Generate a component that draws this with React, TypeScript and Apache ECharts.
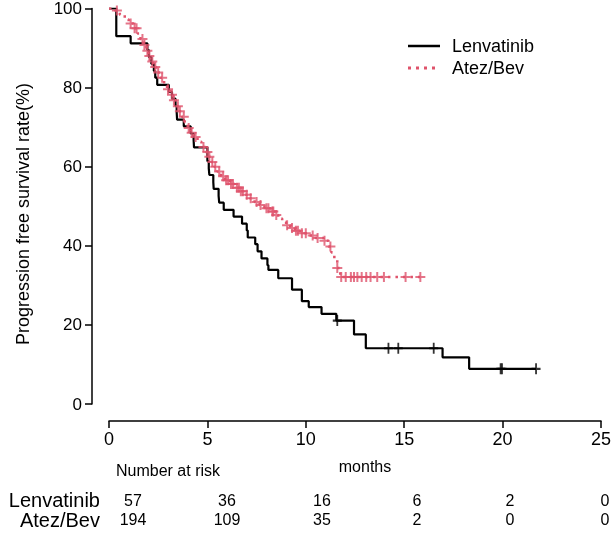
import React, { useEffect, useRef } from "react";
import * as echarts from "echarts";

// Lenvatinib KM steps: [month, survival %]
const lenSteps: [number, number][] = [
  [0, 100], [0.37, 93.0], [1.1, 91.2], [1.95, 89.5], [2.03, 87.7], [2.15, 86.0],
  [2.28, 84.2], [2.35, 82.5], [2.45, 80.7], [3.04, 78.9], [3.2, 77.2], [3.38, 75.4],
  [3.44, 73.7], [3.46, 71.9], [3.8, 70.2], [4.15, 68.4], [4.3, 66.7], [4.32, 64.9],
  [5.0, 61.4], [5.07, 59.6], [5.1, 57.9], [5.3, 56.1], [5.32, 54.4], [5.57, 52.6],
  [5.6, 50.9], [5.83, 49.1], [6.33, 47.4], [6.76, 45.6], [7.0, 43.9], [7.05, 42.1],
  [7.43, 40.4], [7.55, 38.6], [7.75, 36.8], [8.05, 35.1], [8.1, 33.9], [8.6, 31.8],
  [9.3, 28.9], [9.8, 26.0], [10.15, 24.5], [10.8, 22.8], [11.55, 21.1], [12.45, 17.6],
  [13.05, 14.1], [16.95, 11.8], [18.3, 8.9], [21.7, 8.9],
];
const lenCensor: [number, number][] = [
  [11.6, 21.1], [14.2, 14.1], [14.7, 14.1], [16.5, 14.1], [19.9, 8.9], [19.97, 8.9], [21.7, 8.9],
];

// Atez/Bev KM steps
const atezSteps: [number, number][] = [
  [0, 100], [0.3, 99.5], [0.55, 98.4], [0.8, 97.3], [1.0, 96.2], [1.25, 95.0], [1.45, 93.7],
  [1.6, 92.3], [1.75, 90.8], [1.9, 89.3], [2.0, 88.0], [2.1, 86.6], [2.25, 85.2], [2.4, 83.8],
  [2.6, 82.5], [2.8, 81.0], [2.95, 79.6], [3.1, 78.2], [3.25, 76.8], [3.4, 75.3], [3.55, 74.0],
  [3.7, 72.6], [3.85, 71.2], [4.0, 69.8], [4.15, 68.6], [4.3, 67.5], [4.5, 66.3], [4.7, 65.0],
  [4.9, 63.7], [5.05, 62.5], [5.2, 61.2], [5.35, 60.0], [5.5, 58.8], [5.7, 57.6], [5.9, 56.6],
  [6.15, 55.6], [6.4, 54.7], [6.65, 53.8], [6.9, 52.9], [7.15, 52.0], [7.4, 51.1], [7.65, 50.3],
  [7.9, 49.5], [8.2, 48.7], [8.45, 47.8], [8.6, 46.9], [8.8, 46.0], [9.0, 45.2], [9.2, 44.5],
  [9.45, 43.8], [9.7, 43.2], [10.1, 42.6], [10.5, 42.0], [10.9, 41.3], [11.15, 39.8], [11.3, 38.3],
  [11.45, 36.6], [11.6, 34.4], [11.75, 32.1], [15.82, 32.1],
];
const atezCensor: [number, number][] = [
  [0.4, 99.5], [1.1, 96.2], [1.3, 95.0], [1.4, 95.0], [1.7, 92.3], [1.8, 90.8], [1.95, 89.3],
  [2.05, 88.0], [2.2, 86.6], [2.35, 85.2], [2.5, 83.8], [2.7, 82.5], [3.0, 79.6], [3.2, 78.2],
  [3.3, 76.8], [3.5, 75.3], [3.6, 74.0], [3.8, 72.6], [4.05, 69.8], [4.2, 68.6], [4.4, 67.5],
  [4.8, 65.0], [5.0, 63.7], [5.1, 62.5], [5.25, 61.2], [5.4, 60.0], [5.6, 58.8], [5.8, 57.6],
  [5.95, 56.6], [6.05, 56.6], [6.2, 55.6], [6.3, 55.6], [6.5, 54.7], [6.6, 54.7], [6.7, 53.8],
  [6.8, 53.8], [7.0, 52.9], [7.2, 52.0], [7.5, 51.1], [7.7, 50.3], [8.0, 49.5], [8.1, 49.5],
  [8.3, 48.7], [8.35, 48.7], [8.5, 47.8], [9.05, 45.2], [9.3, 44.5], [9.5, 43.8], [9.6, 43.8],
  [9.8, 43.2], [10.0, 43.2], [10.35, 42.6], [10.6, 42.0], [10.95, 41.3], [11.25, 39.8], [11.6, 34.4],
  [11.8, 32.1], [12.03, 32.1], [12.29, 32.1], [12.45, 32.1], [12.62, 32.1], [12.84, 32.1],
  [13.07, 32.1], [13.29, 32.1], [13.63, 32.1], [13.97, 32.1], [15.07, 32.1], [15.82, 32.1],
];

const groups = ["Lenvatinib", "Atez/Bev"];
const lenRisk = [57, 36, 16, 6, 2, 0];
const atezRisk = [194, 109, 35, 2, 0, 0];
const yTitle = "Progression free survival rate(%)";
const xTitle = "months";
const riskTitle = "Number at risk";

const FONT = '"Liberation Sans", Arial, Helvetica, sans-serif';
const PINK = "#DF536B";
const PLUS = "path://M4,0H6V10H4ZM0,4H10V6H0Z";
const riskCols = [133, 227, 322, 417, 510, 605];

export default function App() {
  const ref = useRef<HTMLDivElement>(null);
  useEffect(() => {
    if (!ref.current) return;
    const chart = echarts.init(ref.current, null, { renderer: "svg" });
    const txt = (text: string, x: number, y: number, size: number, align = "center") => ({
      type: "text",
      x,
      y,
      style: { text, font: `${size}px ${FONT}`, fill: "#000", align, verticalAlign: "middle" },
    });
    const graphic: any[] = [
      {
        type: "text",
        x: 23,
        y: 214,
        rotation: Math.PI / 2,
        style: { text: yTitle, font: `18px ${FONT}`, fill: "#000", align: "center", verticalAlign: "middle" },
      },
      { type: "line", shape: { x1: 408, y1: 46, x2: 440, y2: 46 }, style: { stroke: "#000", lineWidth: 2.5 } },
      { type: "line", shape: { x1: 408, y1: 68, x2: 440, y2: 68 }, style: { stroke: PINK, lineWidth: 3, lineDash: [3, 5] } },
      txt(groups[0], 452, 46, 18, "left"),
      txt(groups[1], 452, 68, 18, "left"),
      txt(xTitle, 365, 466, 16),
      txt(riskTitle, 116, 470, 16, "left"),
      txt(groups[0], 100, 500, 20, "right"),
      txt(groups[1], 100, 520, 20, "right"),
    ];
    lenRisk.forEach((v, i) => graphic.push(txt(String(v), riskCols[i], 500, 16)));
    atezRisk.forEach((v, i) => graphic.push(txt(String(v), riskCols[i], 519, 16)));

    chart.setOption({
      animation: false,
      grid: { left: 109, right: 11, top: 8, bottom: 132 },
      xAxis: {
        type: "value",
        min: 0,
        max: 25,
        interval: 5,
        offset: 17,
        splitLine: { show: false },
        axisLine: { show: true, onZero: false, lineStyle: { color: "#000", width: 1.5 } },
        axisTick: { show: true, length: 7, lineStyle: { color: "#000", width: 1.5 } },
        axisLabel: { color: "#000", fontSize: 18, fontFamily: FONT, margin: 9 },
      },
      yAxis: {
        type: "value",
        min: 0,
        max: 100,
        interval: 20,
        offset: 17,
        splitLine: { show: false },
        axisLine: { show: true, onZero: false, lineStyle: { color: "#000", width: 1.5 } },
        axisTick: { show: true, length: 7, lineStyle: { color: "#000", width: 1.5 } },
        axisLabel: { color: "#000", fontSize: 17, fontFamily: FONT, margin: 10 },
      },
      graphic,
      series: [
        {
          name: groups[0],
          type: "line",
          step: "end",
          data: lenSteps,
          showSymbol: false,
          lineStyle: { color: "#000", width: 2.2 },
          z: 2,
        },
        {
          type: "scatter",
          data: lenCensor,
          symbol: PLUS,
          symbolSize: [9, 11],
          itemStyle: { color: "#000" },
          z: 3,
        },
        {
          name: groups[1],
          type: "line",
          step: "end",
          data: atezSteps,
          showSymbol: false,
          lineStyle: { color: PINK, width: 2.5, type: [2.5, 5] },
          z: 4,
        },
        {
          type: "scatter",
          data: atezCensor,
          symbol: PLUS,
          symbolSize: 10,
          itemStyle: { color: PINK },
          z: 5,
        },
      ],
    });
    return () => chart.dispose();
  }, []);
  return <div ref={ref} style={{ position: "fixed", left: 0, top: 0, width: 614, height: 536 }} />;
}
